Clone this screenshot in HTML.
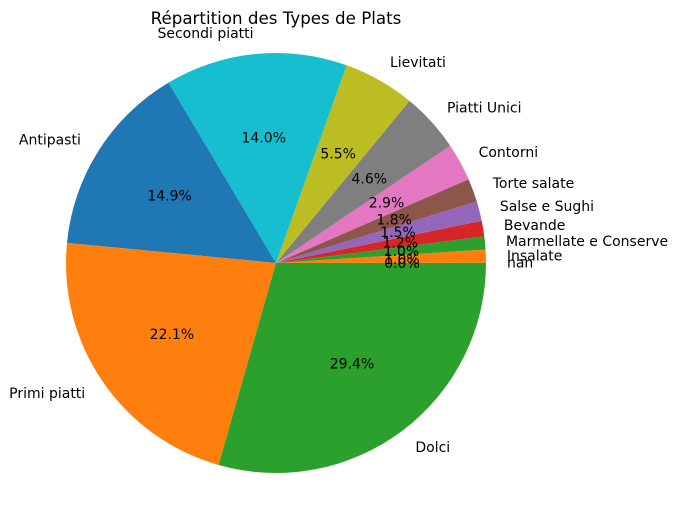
<!DOCTYPE html>
<html><head><meta charset="utf-8"><style>
html,body{margin:0;padding:0;background:#fff;}
svg text{font-family:"DejaVu Sans","Liberation Sans",sans-serif;font-size:14px;fill:#000;}
</style></head><body>
<svg id="chart" width="677" height="504" viewBox="0 0 677 504">
<text x="276" y="24" text-anchor="middle" style="font-size:16.7px">Répartition des Types de Plats</text>
<g id="slices"></g><g id="labels"></g>
</svg>
<script>
const categories = ["Antipasti","Primi piatti","Dolci","nan","Insalate","Marmellate e Conserve","Bevande","Salse e Sughi","Torte salate","Contorni","Piatti Unici","Lievitati","Secondi piatti"];
const values = [14.9,22.1,29.4,0.0,1.0,1.0,1.2,1.5,1.8,2.9,4.6,5.5,14.0];
const colors = ["#1f77b4","#ff7f0e","#2ca02c","#d62728","#ff7f0e","#2ca02c","#d62728","#9467bd","#8c564b","#e377c2","#7f7f7f","#bcbd22","#17becf"];
const cx=276, cy=263, R=210, startAngle=120.8;
const NS="http://www.w3.org/2000/svg";
const total = values.reduce((a,b)=>a+b,0);
const gS=document.getElementById('slices'), gL=document.getElementById('labels');
function pt(a,r){const t=a*Math.PI/180;return [cx+r*Math.cos(t), cy-r*Math.sin(t)];}
let ang=startAngle;
values.forEach((v,i)=>{
  const sweep=v/total*360;
  const a0=ang, a1=ang+sweep, mid=ang+sweep/2;
  ang=a1;
  if(sweep>0){
    const p0=pt(a0,R), p1=pt(a1,R);
    const path=document.createElementNS(NS,'path');
    path.setAttribute('d',`M${cx},${cy} L${p0[0]},${p0[1]} A${R},${R} 0 ${sweep>180?1:0} 0 ${p1[0]},${p1[1]} Z`);
    path.setAttribute('fill',colors[i]);
    
    
    gS.appendChild(path);
  }
  const lp=pt(mid,R*1.1);
  const t=document.createElementNS(NS,'text');
  t.setAttribute('x',lp[0]);t.setAttribute('y',lp[1]+5);
  t.setAttribute('text-anchor',lp[0]>=cx?'start':'end');
  t.textContent=categories[i];
  
  
  gL.appendChild(t);
  const pp=pt(mid,R*0.6);
  const p=document.createElementNS(NS,'text');
  p.setAttribute('x',pp[0]);p.setAttribute('y',pp[1]+5);
  p.setAttribute('text-anchor','middle');
  p.textContent=v.toFixed(1)+'%';
  
  
  gL.appendChild(p);
});
</script>
</body></html>
